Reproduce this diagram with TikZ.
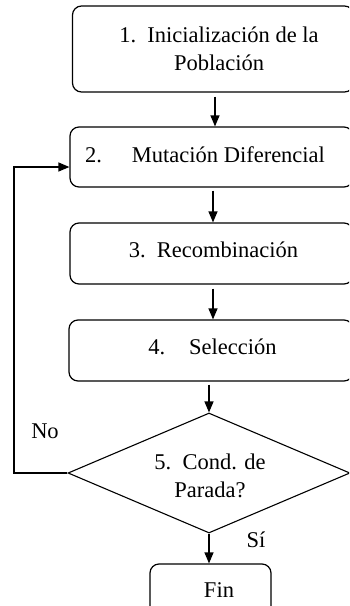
\documentclass[tikz,border=0pt]{standalone}
\usepackage{fontspec}
\setmainfont{Liberation Serif}
\usetikzlibrary{arrows.meta,shapes.geometric}
\tikzset{
  box/.style={draw, line width=1.2pt, rounded corners=9pt, inner sep=0pt},
  lbl/.style={font=\fontsize{22.5}{28}\selectfont, align=center},
  arr/.style={line width=1.2pt, -{Triangle[length=11pt,width=9pt]}},
  con/.style={line width=1.2pt}
}
\begin{document}
\begin{tikzpicture}[x=1pt,y=-1pt]
\useasboundingbox (0,0) rectangle (349,606);
\clip (0,0) rectangle (349,606);
% boxes
\node[box, minimum width=281pt, minimum height=86pt] (b1) at (213,49) {};
\node[lbl] (t1) at (219,49) {1.~~Inicialización de la\\Población};
\node[box, minimum width=283pt, minimum height=60pt] (b2) at (211.5,157) {};
\node[lbl] (t2) at (205,155) {2.\hspace{30pt}Mutación Diferencial};
\node[box, minimum width=283pt, minimum height=61pt] (b3) at (211.5,253.5) {};
\node[lbl] (t3) at (213.5,250) {3.~~Recombinación};
\node[box, minimum width=284pt, minimum height=61pt] (b4) at (211,350.5) {};
\node[lbl] (t4) at (212.5,347) {4.\hspace{24pt}Selección};
\node[draw, diamond, line width=1.1pt, inner sep=0pt, aspect=2.35,
      minimum width=282pt, minimum height=120pt] (d) at (209,473) {};
\node[lbl] (t5) at (210,476) {5.~~Cond. de\\Parada?};
\node[box, minimum width=121pt, minimum height=52pt] (fin) at (210.5,590) {};
\node[lbl] (tf) at (219,590) {Fin};
% labels
\node[lbl] (no) at (45,431) {No};
\node[lbl] (si) at (256,540) {Sí};
% connectors
\draw[arr] (215,0 |- b1.south) ++(0,4) -- (215,0 |- b2.north);
\draw[arr] (213,0 |- b2.south) ++(0,3) -- (213,0 |- b3.north);
\draw[arr] (213,0 |- b3.south) ++(0,4) -- (213,0 |- b4.north);
\draw[arr] (d.north |- b4.south) ++(0,3) -- (d.north);
\draw[arr] (d.south) -- (d.south |- fin.north);
\coordinate (fb) at (14,167);
\draw[arr] (d.west) -| (fb) -- (fb -| b2.west);
\end{tikzpicture}
\end{document}
